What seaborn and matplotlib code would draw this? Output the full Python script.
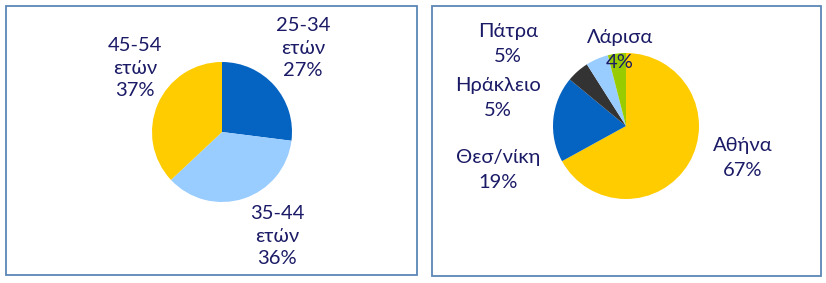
import matplotlib
matplotlib.use("Agg")
import matplotlib.pyplot as plt
import seaborn as sns
from matplotlib.patches import Rectangle

sns.set_theme(style="white")
plt.rcParams['font.family'] = ['Lato', 'DejaVu Sans']

# Data
age_labels = ["25-34\nετών", "35-44\nετών", "45-54\nετών"]
age_values = [27, 36, 37]
age_colors = ["#0563C1", "#99CCFF", "#FFCC00"]

city_labels = ["Αθήνα", "Θεσ/νίκη", "Ηράκλειο", "Πάτρα", "Λάρισα"]
city_values = [67, 19, 5, 5, 4]
city_colors = ["#FFCC00", "#0563C1", "#333333", "#99CCFF", "#99CC00"]

TEXT = "#1A1A66"
BORDER = "#5B87B5"

W, H = 826, 283
fig = plt.figure(figsize=(W / 100, H / 100), dpi=100)
ax = fig.add_axes([0, 0, 1, 1])

# panel borders (pixel coords, y measured from top)
for (x0, y0, x1, y1) in [(6, 6, 417, 275), (432, 6, 821, 276)]:
    ax.add_patch(Rectangle((x0, H - y1), x1 - x0, y1 - y0, fill=False,
                           edgecolor=BORDER, linewidth=1.3))

ax.pie(age_values, colors=age_colors, startangle=90, counterclock=False,
       radius=70, center=(222, H - 132), frame=True,
       wedgeprops=dict(linewidth=0))
ax.pie(city_values, colors=city_colors, startangle=90, counterclock=False,
       radius=73, center=(626, H - 126), frame=True,
       wedgeprops=dict(linewidth=0))
ax.set_xlim(0, W)
ax.set_ylim(0, H)
ax.axis("off")

FS = 14.5
age_pos = [(303, 48), (277, 236), (135, 68)]
for lab, v, (x, y) in zip(age_labels, age_values, age_pos):
    ax.text(x, H - y, f"{lab}\n{v}%", ha="center", va="center",
            fontsize=FS, color=TEXT, linespacing=1.4)

city_pos = [(743, 158), (498, 170), (498, 98), (508, 44), (620, 50)]
for lab, v, (x, y) in zip(city_labels, city_values, city_pos):
    ax.text(x, H - y, f"{lab}\n{v}%", ha="center", va="center",
            fontsize=FS, color=TEXT, linespacing=1.5)

fig.savefig("out.png", dpi=100)
